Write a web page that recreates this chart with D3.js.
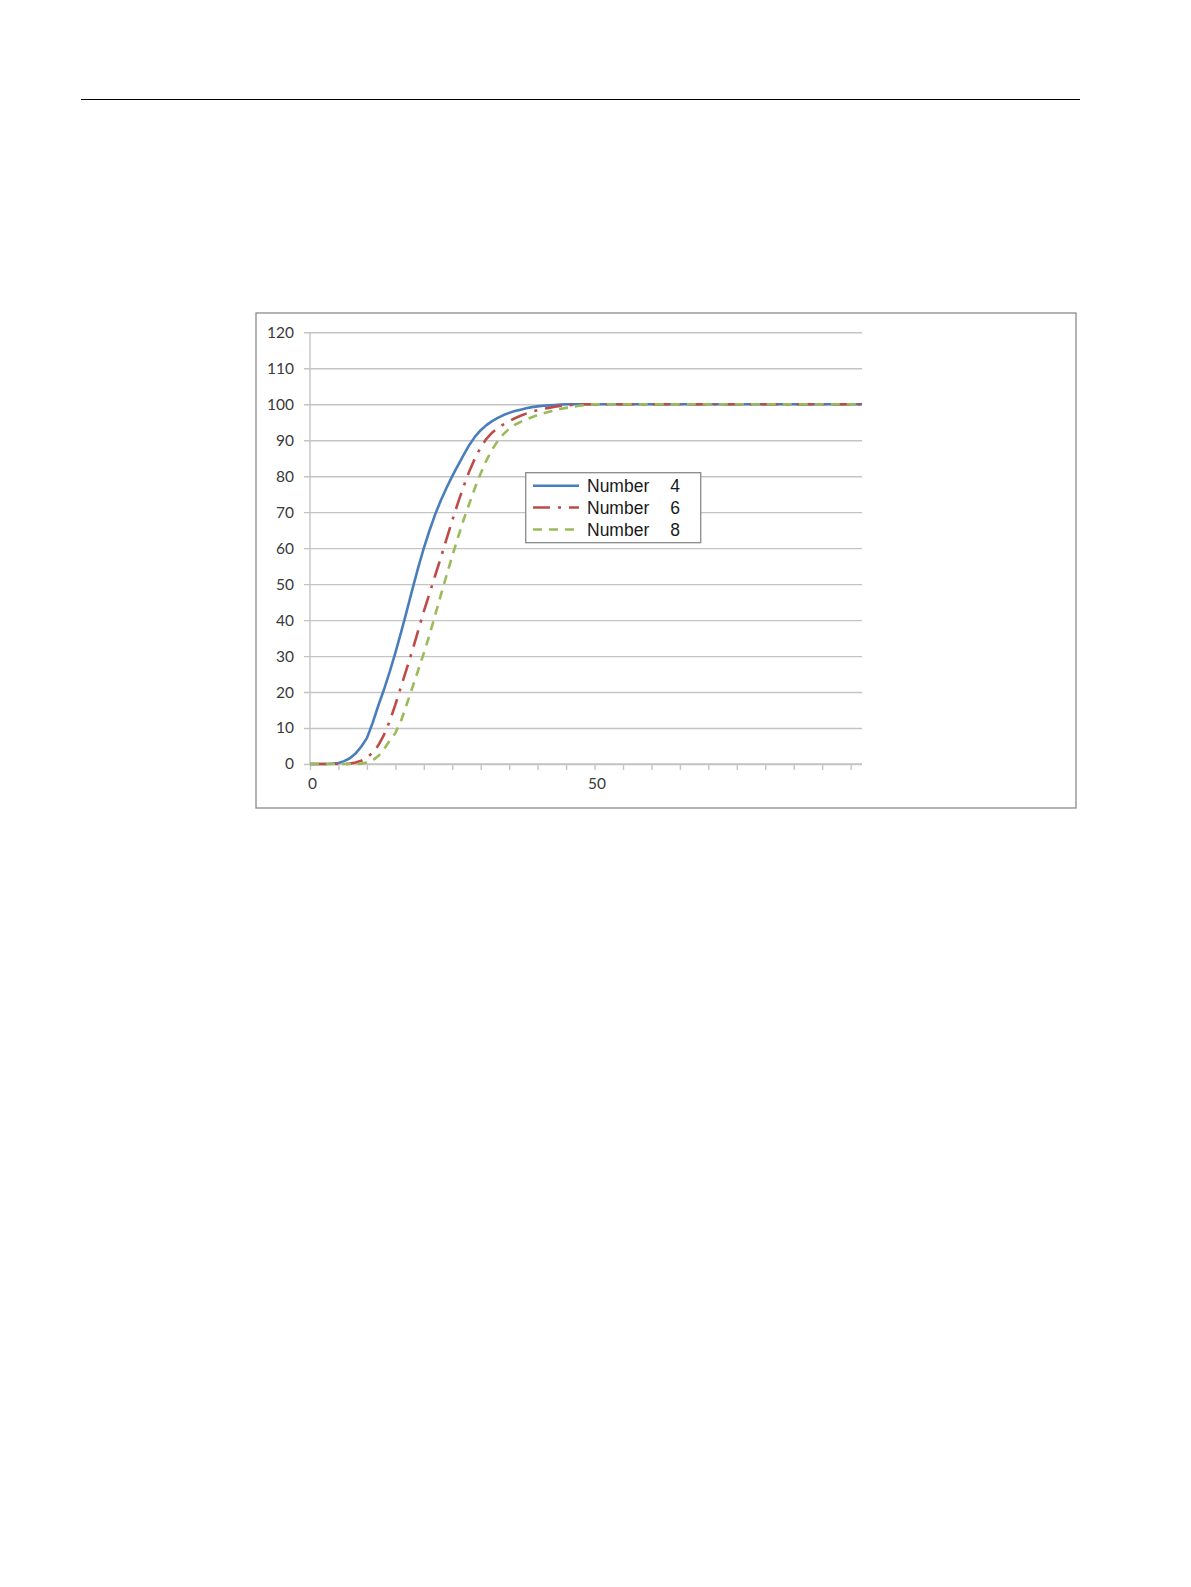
<!DOCTYPE html>
<html>
<head>
<meta charset="utf-8">
<script src="https://cdn.jsdelivr.net/npm/d3@7"></script>
<style>
  body { margin: 0; background: #fff; }
  svg { display: block; }
</style>
</head>
<body>
<div class="page"></div>
<script>
// values, one per category 0..97
var categories = d3.range(0, 98);

var number4 = [0, 0, 0, 0, 0.1, 0.3, 0.8, 1.6, 2.9, 4.8,
  7.2, 11.4, 16.2, 20.7, 25.6, 30.9, 36.6, 42.5, 48.6, 54.5,
  60.0, 64.9, 69.4, 73.3, 76.8, 80.0, 83.0, 85.9, 88.7, 91.0,
  92.8, 94.2, 95.3, 96.2, 97.0, 97.6, 98.1, 98.5, 98.9, 99.2,
  99.4, 99.6, 99.7, 99.8, 99.9, 100, 100, 100, 100, 100,
  100, 100, 100, 100, 100, 100, 100, 100, 100, 100,
  100, 100, 100, 100, 100, 100, 100, 100, 100, 100,
  100, 100, 100, 100, 100, 100, 100, 100, 100, 100,
  100, 100, 100, 100, 100, 100, 100, 100, 100, 100,
  100, 100, 100, 100, 100, 100, 100, 100];

var number6 = [0, 0, 0, 0, 0, 0, 0, 0.1, 0.4, 0.9,
  1.8, 3.1, 5.2, 8.1, 11.9, 16.5, 21.5, 26.5, 31.6, 37.0,
  42.4, 47.4, 52.4, 57.4, 62.6, 67.7, 72.6, 77.2, 81.4, 85.0,
  88.0, 90.4, 92.1, 93.4, 94.4, 95.3, 96.1, 96.8, 97.4, 97.9,
  98.4, 98.7, 99.0, 99.3, 99.5, 99.7, 99.8, 99.9, 100, 100,
  100, 100, 100, 100, 100, 100, 100, 100, 100, 100,
  100, 100, 100, 100, 100, 100, 100, 100, 100, 100,
  100, 100, 100, 100, 100, 100, 100, 100, 100, 100,
  100, 100, 100, 100, 100, 100, 100, 100, 100, 100,
  100, 100, 100, 100, 100, 100, 100, 100];

var number8 = [0, 0, 0, 0, 0, 0, 0, 0, 0, 0.1,
  0.4, 1.0, 2.2, 4.1, 6.5, 8.6, 12.0, 16.6, 21.3, 26.0,
  30.8, 35.9, 41.4, 47.0, 52.5, 57.8, 63.0, 67.9, 72.4, 76.8,
  80.8, 84.4, 87.4, 89.8, 91.7, 93.2, 94.3, 95.1, 95.8, 96.4,
  97.0, 97.5, 97.9, 98.3, 98.7, 99.0, 99.2, 99.5, 99.7, 99.9,
  100, 100, 100, 100, 100, 100, 100, 100, 100, 100,
  100, 100, 100, 100, 100, 100, 100, 100, 100, 100,
  100, 100, 100, 100, 100, 100, 100, 100, 100, 100,
  100, 100, 100, 100, 100, 100, 100, 100, 100, 100,
  100, 100, 100, 100, 100, 100, 100, 100];

var seriesNames = ["Number", "Number", "Number"];
var seriesNums = ["4", "6", "8"];
var yTicks = [0, 10, 20, 30, 40, 50, 60, 70, 80, 90, 100, 110, 120];
var xTicks = d3.range(0, 96, 5);
var xLabels = [0, 50];

var W = 1191, H = 1587;
var svg = d3.select(".page").append("svg").attr("width", W).attr("height", H);

// rule across the top of the page
svg.append("line")
  .attr("x1", 81).attr("x2", 1080).attr("y1", 99.5).attr("y2", 99.5)
  .attr("stroke", "#000").attr("stroke-width", 1);

// chart frame
svg.append("rect")
  .attr("x", 256).attr("y", 313).attr("width", 820).attr("height", 495)
  .attr("fill", "#fff").attr("stroke", "#8a8a8a").attr("stroke-width", 1.3);

var plotL = 310, plotR = 862, plotT = 332.3, plotB = 764;
var x = d3.scaleLinear().domain([0, 97]).range([plotL, plotR]);
var y = d3.scaleLinear().domain([0, 120]).range([plotB, plotT]);

var gridColor = "#c4c4c4";
var labelFont = "Lato, 'Open Sans', sans-serif";

// y axis with gridlines
var gy = svg.append("g").attr("transform", "translate(" + plotL + ",0)")
  .call(d3.axisLeft(y).tickValues(yTicks).tickSize(-(plotR - plotL)).tickPadding(16));
gy.select(".domain").remove();
gy.selectAll(".tick line").attr("x1", -6).attr("stroke", gridColor).attr("stroke-width", 1.4);
gy.selectAll(".tick text")
  .attr("font-family", labelFont).attr("font-size", 15.5)
  .attr("fill", "#3a3a3a");

svg.append("line")
  .attr("x1", plotL).attr("x2", plotL).attr("y1", plotT).attr("y2", plotB)
  .attr("stroke", gridColor).attr("stroke-width", 1.4);

// x axis
var gx = svg.append("g").attr("transform", "translate(0," + plotB + ")")
  .call(d3.axisBottom(x).tickValues(xTicks).tickSize(6).tickPadding(8)
    .tickFormat(function(d) { return xLabels.indexOf(d) >= 0 ? d : ""; }));
gx.select(".domain").remove();
gx.selectAll(".tick line").attr("stroke", gridColor).attr("stroke-width", 1.4);
gx.selectAll(".tick text")
  .attr("dx", 2)
  .attr("font-family", labelFont).attr("font-size", 15.5)
  .attr("fill", "#3a3a3a");
svg.append("line")
  .attr("x1", plotL).attr("x2", plotR).attr("y1", plotB).attr("y2", plotB)
  .attr("stroke", gridColor).attr("stroke-width", 1.4);

var series = [
  {values: number4, color: "#4a7ebb", dash: null},
  {values: number6, color: "#be4b48", dash: "17,8,3,8"},
  {values: number8, color: "#9bbb59", dash: "9,7"}
];

var line = d3.line()
  .x(function(d, i) { return x(categories[i]); })
  .y(function(d) { return y(d); });

svg.selectAll(".series").data(series).enter().append("path")
  .attr("class", "series")
  .attr("d", function(d) { return line(d.values); })
  .attr("fill", "none")
  .attr("stroke", function(d) { return d.color; })
  .attr("stroke-width", 2.6)
  .attr("stroke-linejoin", "round")
  .attr("stroke-dasharray", function(d) { return d.dash; });

// legend
var lg = svg.append("g");
lg.append("rect")
  .attr("x", 525.7).attr("y", 472.7).attr("width", 175).attr("height", 70)
  .attr("fill", "#fff").attr("stroke", "#8a8a8a").attr("stroke-width", 1.3);

var rowY = [485.7, 507.5, 529.5];
var rows = lg.selectAll(".row").data(series).enter().append("g")
  .attr("class", "row")
  .attr("transform", function(d, i) { return "translate(0," + rowY[i] + ")"; });
rows.append("line")
  .attr("x1", 533).attr("x2", 579).attr("y1", 0).attr("y2", 0)
  .attr("stroke", function(d) { return d.color; })
  .attr("stroke-width", 2.5)
  .attr("stroke-dasharray", function(d) { return d.dash; });
rows.append("text")
  .attr("x", 587).attr("y", 0).attr("dy", "0.36em")
  .attr("font-family", "'Liberation Sans', Arial, sans-serif").attr("font-size", 17.5)
  .attr("fill", "#1a1a1a")
  .text(function(d, i) { return seriesNames[i]; });
rows.append("text")
  .attr("x", 675).attr("y", 0).attr("dy", "0.36em").attr("text-anchor", "middle")
  .attr("font-family", "'Liberation Sans', Arial, sans-serif").attr("font-size", 17.5)
  .attr("fill", "#1a1a1a")
  .text(function(d, i) { return seriesNums[i]; });
</script>
</body>
</html>
